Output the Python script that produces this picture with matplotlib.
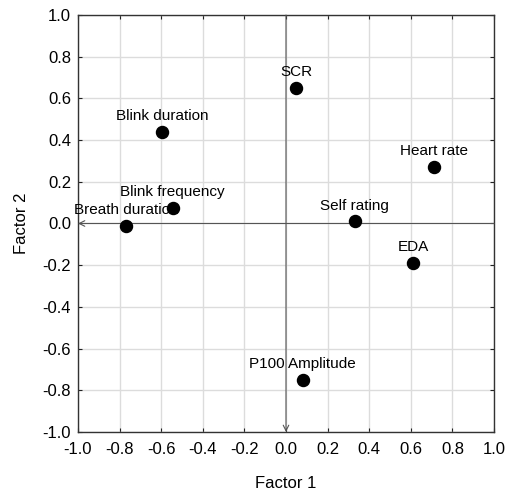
import matplotlib
matplotlib.use("Agg")
import matplotlib.pyplot as plt

names = ["SCR", "Heart rate", "Self rating", "EDA", "P100 Amplitude",
         "Blink duration", "Blink frequency", "Breath duration"]
factor1 = [0.05, 0.71, 0.33, 0.61, 0.08, -0.595, -0.545, -0.77]
factor2 = [0.65, 0.27, 0.01, -0.19, -0.75, 0.44, 0.075, -0.01]
ticks = [-1.0, -0.8, -0.6, -0.4, -0.2, 0.0, 0.2, 0.4, 0.6, 0.8, 1.0]
tick_labels = [f"{t:.1f}" for t in ticks]

plt.rcParams['font.family'] = ['Liberation Sans', 'DejaVu Sans']

fig = plt.figure(figsize=(5.07, 4.90), dpi=100)
ax = fig.add_axes([0.1538, 0.1184, 0.8206, 0.851])

ax.set_xlim(-1, 1)
ax.set_ylim(-1, 1)
ax.set_xticks(ticks)
ax.set_yticks(ticks)
ax.set_xticklabels(tick_labels, fontsize=12)
ax.set_yticklabels(tick_labels, fontsize=12)
ax.tick_params(direction='in', length=3, width=0.8, top=True, right=True,
               colors='#222222', labelcolor='black')
ax.tick_params(axis='x', pad=7)
ax.tick_params(axis='y', pad=5)
ax.grid(True, color='#dcdcdc', linewidth=1.0)
ax.set_axisbelow(True)
for s in ax.spines.values():
    s.set_color('#333333')
    s.set_linewidth(1.0)

# zero axes with arrows
ax.annotate("", xy=(-1, 0), xytext=(1, 0),
            arrowprops=dict(arrowstyle='->', color='#555555', lw=0.8,
                            shrinkA=0, shrinkB=0))
ax.annotate("", xy=(0, -1), xytext=(0, 1),
            arrowprops=dict(arrowstyle='->', color='#555555', lw=0.8,
                            shrinkA=0, shrinkB=0))

ax.scatter(factor1, factor2, s=75, color='black', zorder=5)
for n, x, y in zip(names, factor1, factor2):
    ax.annotate(n, (x, y), xytext=(0, 8.5), textcoords='offset points',
                ha='center', va='baseline', fontsize=11, zorder=6)

ax.set_xlabel("Factor 1", fontsize=12, labelpad=14)
ax.set_ylabel("Factor 2", fontsize=12, labelpad=10)

fig.savefig("out.png", dpi=100)
